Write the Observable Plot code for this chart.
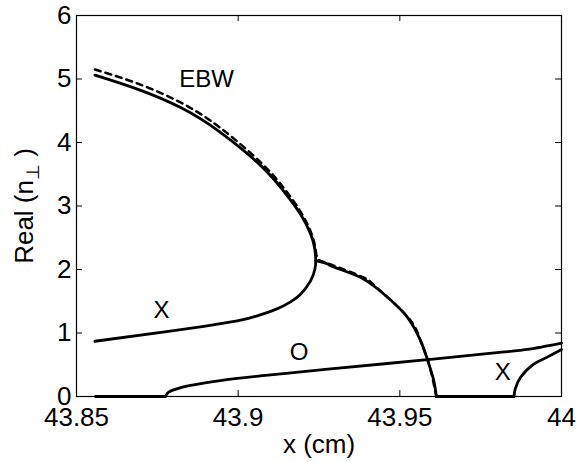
<!DOCTYPE html>
<html>
<head>
<meta charset="utf-8">
<script src="https://cdn.jsdelivr.net/npm/d3@7"></script>
<script src="https://cdn.jsdelivr.net/npm/@observablehq/plot@0.6"></script>
<style>
  html, body { margin: 0; padding: 0; background: #fff; }
</style>
</head>
<body>
<div id="chart"></div>
<script>
// ---- Axis ticks ----
const xTickValues = [43.85, 43.9, 43.95, 44];
const xTickLabels = ["43.85", "43.9", "43.95", "44"];
const yTickValues = [0, 1, 2, 3, 4, 5, 6];
const yTickLabels = ["0", "1", "2", "3", "4", "5", "6"];

// ---- Solid curves (hot plasma) ----
// X-mode lower branch (left) up to the fold
const xModeLeftX = [43.8557, 43.879, 43.8894, 43.8997, 43.9059, 43.912, 43.9162, 43.9193, 43.9224, 43.9237, 43.924];
const xModeLeftY = [0.87, 1.03, 1.105, 1.19, 1.27, 1.38, 1.49, 1.61, 1.82, 2.0, 2.14];
// EBW upper branch from fold back to the left
const ebwX = [43.924, 43.9236, 43.9224, 43.9193, 43.914, 43.9069, 43.8945, 43.8822, 43.8688, 43.8557];
const ebwY = [2.14, 2.35, 2.56, 2.87, 3.24, 3.64, 4.16, 4.55, 4.84, 5.06];
// Branch descending from the coalescence point to zero
const descX = [43.924, 43.9275, 43.9286, 43.9385, 43.9425, 43.9523, 43.9564, 43.959, 43.9605, 43.9613];
const descY = [2.14, 2.09, 2.06, 1.86, 1.72, 1.25, 0.88, 0.51, 0.25, 0];
// Zero segments (cut-off regions)
const zeroLeftX = [43.8559, 43.8775];
const zeroLeftY = [0, 0];
const zeroMidX = [43.9613, 43.9853];
const zeroMidY = [0, 0];
// O-mode
const oModeX = [43.8775, 43.8785, 43.8822, 43.8945, 43.91, 43.9255, 43.9286, 43.9585, 43.98, 43.99, 44.0];
const oModeY = [0, 0.07, 0.14, 0.25, 0.34, 0.42, 0.435, 0.58, 0.69, 0.745, 0.84];
// X-mode right
const xModeRightX = [43.9853, 43.9857, 43.9873, 43.9914, 43.9956, 44.0];
const xModeRightY = [0, 0.12, 0.30, 0.51, 0.62, 0.74];

// ---- Dashed curve (cold approximation of EBW) ----
const ebwColdX = [43.8557, 43.8688, 43.8822, 43.8945, 43.9069, 43.914, 43.9193, 43.9224, 43.9238, 43.9246, 43.9286, 43.9385, 43.9425, 43.9523, 43.9564, 43.959, 43.9613];
const ebwColdY = [5.15, 4.93, 4.63, 4.23, 3.69, 3.29, 2.91, 2.60, 2.36, 2.17, 2.08, 1.88, 1.73, 1.26, 0.88, 0.51, 0];

// ---- Labels ----
const labelText = ["EBW", "X", "O", "X"];
const labelX = [43.8902, 43.8763, 43.9188, 43.9818];
const labelY = [5.0, 1.35, 0.70, 0.38];

// ---- Build tables ----
function toRows(name, xs, ys) { return xs.map((x, i) => ({series: name, x, y: ys[i]})); }
const foldRows = toRows("xebw", [...xModeLeftX, ...ebwX.slice(1)], [...xModeLeftY, ...ebwY.slice(1)]);
const otherRows = [
  ...toRows("desc", descX, descY),
  ...toRows("zeroL", zeroLeftX, zeroLeftY),
  ...toRows("zeroM", zeroMidX, zeroMidY),
  ...toRows("O", oModeX, oModeY),
  ...toRows("Xr", xModeRightX, xModeRightY)
];
const dashedRows = toRows("cold", ebwColdX, ebwColdY);
const labels = labelText.map((t, i) => ({t, x: labelX[i], y: labelY[i]}));

const W = 580, H = 462, mL = 76, mR = 19, mT = 15, mB = 66;
const fw = W - mL - mR, fh = H - mT - mB, tk = 6;

const chart = Plot.plot({
  width: W, height: H,
  marginLeft: mL, marginRight: mR, marginTop: mT, marginBottom: mB,
  style: {fontFamily: "'Liberation Sans', Arial, Helvetica, sans-serif", background: "white", color: "black"},
  x: {domain: [43.85, 44]},
  y: {domain: [0, 6]},
  marks: [
    Plot.axisX({ticks: xTickValues, tickSize: 0, tickPadding: 11, fontSize: 26, label: null,
                tickFormat: d => xTickLabels[xTickValues.indexOf(d)]}),
    Plot.axisY({ticks: yTickValues, tickSize: 0, tickPadding: 5, fontSize: 26, label: null,
                tickFormat: d => yTickLabels[yTickValues.indexOf(d)]}),
    Plot.tickX(xTickValues, {x: d => d, insetTop: fh - tk, stroke: "black", strokeWidth: 1}),
    Plot.tickX(xTickValues, {x: d => d, insetBottom: fh - tk, stroke: "black", strokeWidth: 1}),
    Plot.tickY(yTickValues, {y: d => d, insetRight: fw - tk, stroke: "black", strokeWidth: 1}),
    Plot.tickY(yTickValues, {y: d => d, insetLeft: fw - tk, stroke: "black", strokeWidth: 1}),
    Plot.line(foldRows, {x: "x", y: "y", curve: "natural", stroke: "black", strokeWidth: 2.8}),
    Plot.line(otherRows, {x: "x", y: "y", z: "series", curve: "catmull-rom", stroke: "black", strokeWidth: 2.8}),
    Plot.line(dashedRows, {x: "x", y: "y", curve: "natural", stroke: "black", strokeWidth: 2.5, strokeDasharray: "6,5"}),
    Plot.text(labels, {x: "x", y: "y", text: "t", fontSize: 24, fill: "black"}),
    Plot.text(["x (cm)"], {frameAnchor: "bottom", dy: 56, lineAnchor: "bottom", fontSize: 26, fill: "black"}),
    Plot.text(["Real (n⊥)"], {frameAnchor: "left", dx: -44, rotate: -90, textAnchor: "middle", lineAnchor: "bottom", fontSize: 26, fill: "black"}),
    Plot.frame({stroke: "black", strokeWidth: 1.2})
  ]
});

d3.select(chart).selectAll("text").filter(function() { return this.textContent === "Real (n⊥)"; })
  .each(function() {
    const t = d3.select(this);
    t.text("");
    t.append("tspan").text("Real (n");
    t.append("tspan").attr("dy", 6).attr("font-size", 18).text("⊥");
    t.append("tspan").attr("dy", -6).text(" )");
  });

document.getElementById("chart").appendChild(chart);
</script>
</body>
</html>
